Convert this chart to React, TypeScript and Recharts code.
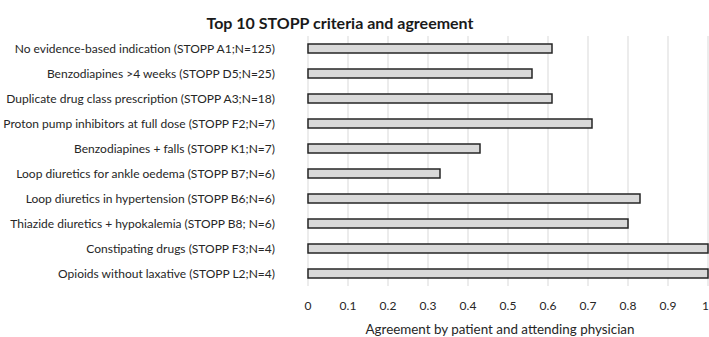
import { Bar, BarChart, CartesianGrid, XAxis, YAxis } from "recharts";

const criteria = [
  "No evidence-based indication (STOPP A1;N=125)",
  "Benzodiapines >4 weeks (STOPP D5;N=25)",
  "Duplicate drug class prescription (STOPP A3;N=18)",
  "Proton pump inhibitors at full dose (STOPP F2;N=7)",
  "Benzodiapines + falls (STOPP K1;N=7)",
  "Loop diuretics for ankle oedema (STOPP B7;N=6)",
  "Loop diuretics in hypertension (STOPP B6;N=6)",
  "Thiazide diuretics + hypokalemia (STOPP B8; N=6)",
  "Constipating drugs (STOPP F3;N=4)",
  "Opioids without laxative (STOPP L2;N=4)",
];

const agreement = [0.61, 0.56, 0.61, 0.71, 0.43, 0.33, 0.83, 0.8, 1, 1];

const xTicks = [0, 0.1, 0.2, 0.3, 0.4, 0.5, 0.6, 0.7, 0.8, 0.9, 1];

const FONT = "Lato, 'Open Sans', sans-serif";
const TEXT = "#262626";

// plain svg text so recharts doesn't wrap the long category names
function CategoryTick({ x, y, payload }: any) {
  return (
    <text
      x={x}
      y={y}
      dy="0.36em"
      textAnchor="end"
      fill={TEXT}
      fontSize={12}
      fontFamily={FONT}
    >
      {payload.value}
    </text>
  );
}

function ValueTick({ x, y, payload }: any) {
  const last = payload.value === 1;
  return (
    <text
      x={last ? x + 1 : x}
      y={y}
      dy="0.71em"
      textAnchor={last ? "end" : "middle"}
      fill={TEXT}
      fontSize={12}
      fontFamily={FONT}
    >
      {payload.value}
    </text>
  );
}

export default function App() {
  const data = criteria.map((name, i) => ({ name, value: agreement[i] }));

  return (
    <div
      style={{
        position: "absolute",
        left: 0,
        top: 0,
        width: 709,
        height: 337,
        background: "#fff",
        fontFamily: FONT,
      }}
    >
      <div
        style={{
          position: "absolute",
          left: 0,
          width: 680,
          top: 13,
          textAlign: "center",
          fontWeight: 700,
          fontSize: 16,
          color: "#1a1a1a",
          lineHeight: "20px",
        }}
      >
        Top 10 STOPP criteria and agreement
      </div>
      <BarChart
        width={709}
        height={337}
        data={data}
        layout="vertical"
        margin={{ top: 36, right: 1, bottom: 0, left: 0 }}
        barCategoryGap={0}
      >
        <CartesianGrid stroke="#d9d9d9" horizontal={false} />
        <XAxis
          type="number"
          domain={[0, 1]}
          ticks={xTicks}
          interval={0}
          axisLine={false}
          tickLine={false}
          tickSize={0}
          tickMargin={15}
          height={51}
          tick={ValueTick}
          label={{
            value: "Agreement by patient and attending physician",
            position: "insideBottom",
            offset: 3,
            dx: -8,
            fill: TEXT,
            fontSize: 13.4,
            fontFamily: FONT,
          }}
        />
        <YAxis
          type="category"
          dataKey="name"
          width={308}
          axisLine={false}
          tickLine={false}
          tickSize={0}
          tickMargin={33}
          interval={0}
          tick={CategoryTick}
        />
        <Bar
          dataKey="value"
          fill="#d9d9d9"
          stroke="#262626"
          strokeWidth={1.5}
          barSize={9}
          isAnimationActive={false}
        />
      </BarChart>
    </div>
  );
}
